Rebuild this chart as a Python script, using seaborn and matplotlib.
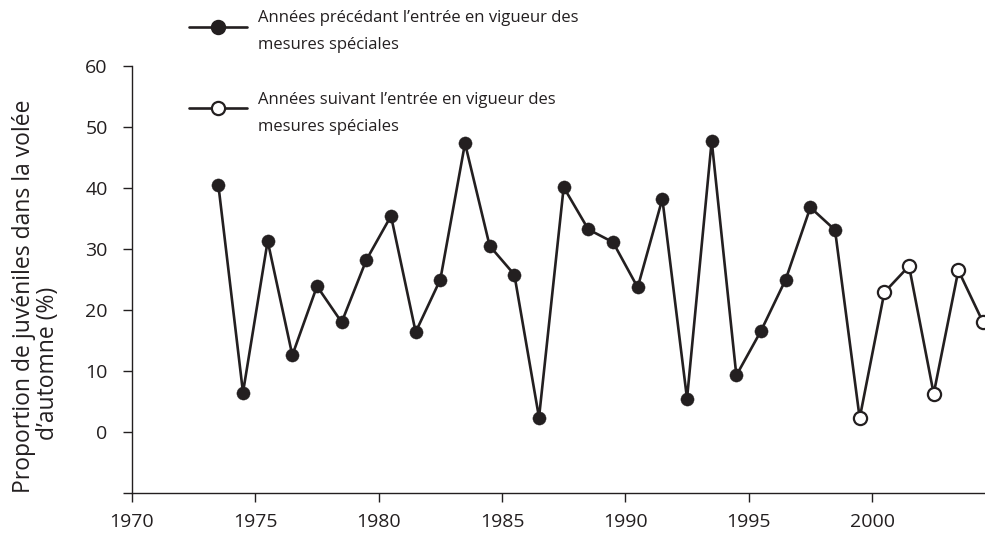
import matplotlib
matplotlib.use("Agg")
import matplotlib.pyplot as plt
from matplotlib.lines import Line2D
import pandas as pd
import seaborn as sns

# values (% juveniles in the autumn flight)
years_before = list(range(1973, 1999))
values_before = [40.5, 6.5, 31.3, 12.6, 23.9, 18.0, 28.2, 35.4, 16.4, 25.0,
                 47.3, 30.5, 25.8, 2.4, 40.1, 33.2, 31.1, 23.7, 38.2, 5.5,
                 47.7, 9.3, 16.6, 25.0, 36.8, 33.1]
years_after = list(range(1999, 2005))
values_after = [2.3, 22.9, 27.2, 6.3, 26.5, 18.0]

x_ticks = [1970, 1975, 1980, 1985, 1990, 1995, 2000]
y_ticks = [-10, 0, 10, 20, 30, 40, 50, 60]
y_ticklabels = ["", "0", "10", "20", "30", "40", "50", "60"]

label_before = "Années précédant l’entrée en vigueur des\nmesures spéciales"
label_after = "Années suivant l’entrée en vigueur des\nmesures spéciales"
ylabel_1 = "Proportion de juvéniles dans la volée"
ylabel_2 = "d’automne (%)"

ink = "#231f20"

before = pd.DataFrame({"year": years_before, "value": values_before, "period": "avant"})
after = pd.DataFrame({"year": years_after, "value": values_after, "period": "après"})
df = pd.concat([before, after], ignore_index=True)
df["x"] = df["year"] + 0.5  # seasons sit mid-year

sns.set_style("ticks")
plt.rcParams["font.family"] = ["Open Sans", "DejaVu Sans"]

W, H = 985, 536
fig = plt.figure(figsize=(W / 100, H / 100), dpi=100)
ax = fig.add_axes([132 / W, (H - 493.3) / H, (W - 132) / W, (493.3 - 65.7) / H])

sns.lineplot(data=df, x="x", y="value", color=ink, lw=1.9, estimator=None, ax=ax)
sns.scatterplot(data=df[df["period"] == "avant"], x="x", y="value", color=ink,
                edgecolor=ink, linewidth=0.3, s=90, ax=ax, zorder=3)
sns.scatterplot(data=df[df["period"] == "après"], x="x", y="value", color="white",
                edgecolor=ink, linewidth=1.6, s=90, ax=ax, zorder=3)

ax.set_xlim(1970, 2004.58)
ax.set_ylim(-10, 60)
ax.set_xticks(x_ticks)
ax.set_yticks(y_ticks)
ax.set_yticklabels(y_ticklabels)
ax.set_xlabel("")
ax.set_ylabel("")
sns.despine(ax=ax)
for s in ["left", "bottom"]:
    ax.spines[s].set_color(ink)
    ax.spines[s].set_linewidth(1.0)
ax.tick_params(axis="both", direction="out", length=6.5, width=1.0, color=ink,
               labelcolor=ink, labelsize=14)
ax.tick_params(axis="y", pad=11)
ax.tick_params(axis="x", pad=8)

# y label, two separately placed lines
fig.text(24 / W, 1 - 296.5 / H, ylabel_1, rotation=90, ha="center", va="center",
         fontsize=16.5, color=ink)
fig.text(48 / W, 1 - 363 / H, ylabel_2, rotation=90, ha="center", va="center",
         fontsize=16.5, color=ink)

# legend drawn by hand at the top
for y_mark, y_top, label, face in [(26.7, 10, label_before, ink),
                                   (108, 92, label_after, "white")]:
    fy = 1 - y_mark / H
    fig.add_artist(Line2D([189 / W, 247 / W], [fy, fy], color=ink, lw=1.9,
                          transform=fig.transFigure))
    fig.add_artist(Line2D([218 / W], [fy], marker="o", ms=9.5, mfc=face, mec=ink,
                          mew=1.6, transform=fig.transFigure))
    fig.text(258 / W, 1 - y_top / H, label, ha="left", va="top",
             fontsize=12, color=ink, linespacing=1.95)

fig.savefig("out.png", dpi=100)
